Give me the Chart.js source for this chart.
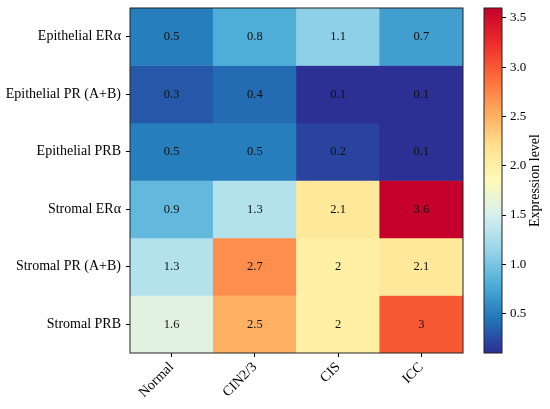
<!DOCTYPE html>
<html>
<head>
<meta charset="utf-8">
<script src="https://cdn.jsdelivr.net/npm/chart.js@4.4.1/dist/chart.umd.min.js"></script>
<style>
  body { margin: 0; background: #fff; width: 550px; height: 409px; position: relative; overflow: hidden; }
  #heat { position: absolute; left: 0; top: 0; }
  #scale { position: absolute; left: 470px; top: 0; }
</style>
</head>
<body>
<canvas id="heat" width="470" height="409"></canvas>
<canvas id="scale" width="80" height="409"></canvas>
<script>
const stages = ["Normal", "CIN2/3", "CIS", "ICC"];
const markers = ["Epithelial ERα", "Epithelial PR (A+B)", "Epithelial PRB", "Stromal ERα", "Stromal PR (A+B)", "Stromal PRB"];

// expression level per marker, in stage order
const epiER = [0.5, 0.8, 1.1, 0.7];
const epiPR = [0.3, 0.4, 0.1, 0.1];
const epiPRB = [0.5, 0.5, 0.2, 0.1];
const stromER = [0.9, 1.3, 2.1, 3.6];
const stromPR = [1.3, 2.7, 2, 2.1];
const stromPRB = [1.6, 2.5, 2, 3];
const levels = [epiER, epiPR, epiPRB, stromER, stromPR, stromPRB];

const scaleTicks = [0.5, 1.0, 1.5, 2.0, 2.5, 3.0, 3.5];
const vmin = 0.1, vmax = 3.6;

const serif = "'Liberation Serif', 'DejaVu Serif', serif";

// red-yellow-blue, low = blue (tuned to the saturated look of the original)
const rdylbu = ["#2c2f93", "#2176b9", "#4eaed8", "#98d6e9", "#d6eff0", "#fffbb8",
                "#fee18e", "#fea95b", "#fe6a3a", "#ee2a2a", "#c4002b"];

function hexRgb(h) {
  return [1, 3, 5].map(i => parseInt(h.substr(i, 2), 16));
}

function cmap(v) {
  let t = (v - vmin) / (vmax - vmin);
  t = Math.max(0, Math.min(1, t));
  const p = t * 10;
  const i = Math.min(9, Math.floor(p));
  const f = p - i;
  const a = hexRgb(rdylbu[i]), b = hexRgb(rdylbu[i + 1]);
  const c = a.map((x, k) => Math.round(x + (b[k] - x) * f));
  return `rgb(${c[0]},${c[1]},${c[2]})`;
}

// no extra room for half tick labels, keep the plot box fixed
function noPad(s) {
  s.paddingTop = 0;
  s.paddingBottom = 0;
  s.paddingLeft = 0;
  s.paddingRight = 0;
}

const frame = {
  id: "frame",
  afterDatasetsDraw(chart) {
    const { ctx, chartArea: a } = chart;
    ctx.save();
    ctx.strokeStyle = "#222";
    ctx.lineWidth = 1;
    ctx.strokeRect(a.left, a.top, a.right - a.left, a.bottom - a.top);
    ctx.restore();
  }
};

const cellText = {
  id: "cellText",
  afterDatasetsDraw(chart) {
    const ctx = chart.ctx;
    ctx.save();
    ctx.font = "12.5px " + serif;
    ctx.fillStyle = "#111";
    ctx.textAlign = "center";
    ctx.textBaseline = "middle";
    levels.forEach((row, r) => {
      chart.getDatasetMeta(r).data.forEach((bar, c) => {
        const p = bar.getProps(["x", "y", "base"], true);
        ctx.fillText(String(row[c]), p.x, (p.y + p.base) / 2);
      });
    });
    ctx.restore();
  }
};

new Chart(document.getElementById("heat"), {
  type: "bar",
  data: {
    labels: stages,
    datasets: levels.map((row, r) => ({
      label: markers[r],
      data: row.map(() => [r, r + 1]),
      backgroundColor: row.map(cmap),
      borderWidth: 0,
      barPercentage: 1,
      categoryPercentage: 1,
      grouped: false
    }))
  },
  options: {
    responsive: false,
    animation: false,
    layout: { padding: { left: 0, top: 8, right: 7, bottom: 0 } },
    plugins: { legend: { display: false }, tooltip: { enabled: false } },
    scales: {
      x: {
        offset: true,
        grid: { offset: false, drawOnChartArea: false, drawTicks: true, tickLength: 4, color: "#000" },
        border: { display: false },
        ticks: { color: "#000", font: { family: serif, size: 14 }, minRotation: 45, maxRotation: 45, padding: 2 },
        afterFit: s => { s.height = 56; noPad(s); }
      },
      y: {
        type: "linear",
        min: 0,
        max: 6,
        reverse: true,
        afterBuildTicks: s => { s.ticks = markers.map((m, i) => ({ value: i + 0.5 })); },
        grid: { drawOnChartArea: false, drawTicks: true, tickLength: 4, color: "#000" },
        border: { display: false },
        ticks: { color: "#000", font: { family: serif, size: 14 }, padding: 5, autoSkip: false,
                 callback: (v, i) => markers[i] },
        afterFit: s => { s.width = 130; noPad(s); }
      }
    }
  },
  plugins: [frame, cellText]
});

const scaleTitle = {
  id: "scaleTitle",
  afterDraw(chart) {
    const ctx = chart.ctx;
    ctx.save();
    ctx.font = "14px " + serif;
    ctx.fillStyle = "#000";
    ctx.textAlign = "center";
    ctx.textBaseline = "middle";
    const a = chart.chartArea;
    ctx.translate(65, (a.top + a.bottom) / 2);
    ctx.rotate(-Math.PI / 2);
    ctx.fillText("Expression level", 0, 0);
    ctx.restore();
  }
};

new Chart(document.getElementById("scale"), {
  type: "bar",
  data: {
    labels: [""],
    datasets: [{
      data: [[vmin, vmax]],
      backgroundColor: c => {
        const ch = c.chart;
        if (!ch.chartArea) return rdylbu[5];
        const y = ch.scales.y;
        const g = ch.ctx.createLinearGradient(0, y.getPixelForValue(vmin), 0, y.getPixelForValue(vmax));
        rdylbu.forEach((col, i) => g.addColorStop(i / 10, col));
        return g;
      },
      borderWidth: 0,
      barPercentage: 1,
      categoryPercentage: 1
    }]
  },
  options: {
    responsive: false,
    animation: false,
    layout: { padding: { left: 14, top: 8, right: 0, bottom: 56 } },
    plugins: { legend: { display: false }, tooltip: { enabled: false } },
    scales: {
      x: { display: false },
      y: {
        position: "right",
        min: vmin,
        max: vmax,
        afterBuildTicks: s => { s.ticks = scaleTicks.map(v => ({ value: v })); },
        grid: { drawOnChartArea: false, drawTicks: true, tickLength: 4, color: "#000" },
        border: { display: false },
        ticks: { color: "#000", font: { family: serif, size: 13 }, padding: 4, callback: v => v.toFixed(1) },
        afterFit: s => { s.width = 48; noPad(s); }
      }
    }
  },
  plugins: [frame, scaleTitle]
});
</script>
</body>
</html>
